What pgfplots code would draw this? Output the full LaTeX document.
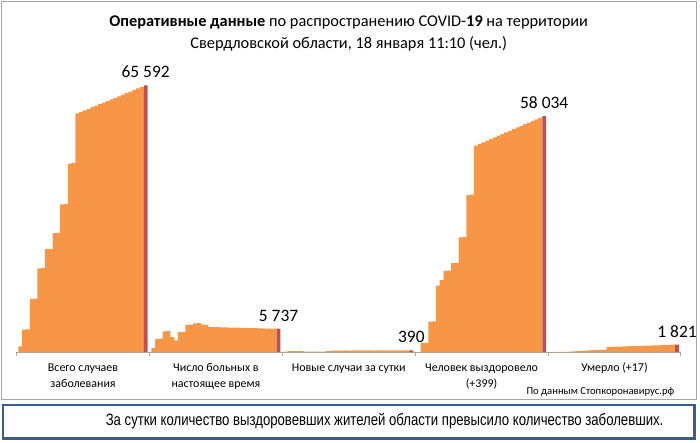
\documentclass[border=0pt]{standalone}
\usepackage{fontspec}
\setmainfont{Carlito}
\newfontfamily\arialn[FakeStretch=0.8]{Liberation Sans}
\usepackage{pgfplots}
\usepackage{pgfplotstable}
\pgfplotsset{compat=1.18}
\definecolor{barorange}{HTML}{F79646}
\definecolor{barred}{HTML}{C0504D}
\definecolor{boxblue}{HTML}{3B5B8C}
\definecolor{framegray}{HTML}{A6A6A6}

\pgfplotstableread{
k total active new recov dead
1 1390 980 120 60 5
2 5540 3200 200 2200 10
3 5580 3300 210 2230 15
4 13050 5100 230 7480 30
5 13090 5200 240 7520 45
6 20560 3680 80 16340 110
7 20620 2860 90 17730 140
8 25300 4880 100 19980 230
9 25360 4920 110 20030 260
10 29230 6650 120 21880 350
11 29280 6750 130 21930 380
12 36330 7050 300 28170 470
13 36400 7100 310 28230 500
14 46350 6750 330 38600 580
15 46450 6650 340 38700 620
16 58660 6150 372 50780 1250
17 59040 6125 380 51180 1282
18 59425 6100 375 51585 1314
19 59810 6075 385 51990 1346
20 60195 6050 378 52390 1378
21 60580 6025 390 52795 1410
22 60960 6000 382 53200 1442
23 61340 5975 388 53600 1474
24 61725 5950 376 54005 1506
25 62110 5925 392 54410 1538
26 62500 5900 384 54810 1570
27 62885 5875 379 55215 1602
28 63270 5850 386 55620 1634
29 63650 5825 391 56020 1666
30 64035 5800 383 56425 1698
31 64420 5780 387 56830 1730
32 64810 5765 389 57230 1762
33 65202 5750 393 57635 1794
}\datatable

\begin{document}
\begin{tikzpicture}
\path (0,0) rectangle (700bp,-444bp);
\draw[framegray, line width=0.8bp] (1.5bp,-1.5bp) rectangle (698.5bp,-400.5bp);
\node[anchor=base, font=\fontsize{16.4bp}{19bp}\selectfont] at (350bp,-27bp) {\textbf{Оперативные данные} по распространению COVID-\textbf{19} на территории};
\node[anchor=base, font=\fontsize{16.4bp}{19bp}\selectfont] at (350bp,-49bp) {Свердловской области, 18 января 11:10 (чел.)};
\begin{axis}[
  at={(16.7bp,-353.3bp)}, anchor=south west,
  scale only axis, width=666.6bp, height=285.7bp,
  xmin=0, xmax=175, ymin=0, ymax=70000,
  axis x line*=bottom, axis y line=none,
  x axis line style={-, framegray, line width=0.8bp},
  xtick={0,35,70,105,140,175}, xticklabels={},
  tick align=outside, major tick length=4bp,
  tick style={framegray, line width=0.8bp},
  clip=false,
]
\addplot[ybar, bar width=1.06, bar shift=0pt, fill=barorange, draw=none] table[x=k, y=total] {\datatable};
\addplot[ybar, bar width=1.06, bar shift=0pt, fill=barorange, draw=none] table[x expr=\thisrow{k}+35, y=active] {\datatable};
\addplot[ybar, bar width=1.06, bar shift=0pt, fill=barorange, draw=none] table[x expr=\thisrow{k}+70, y=new] {\datatable};
\addplot[ybar, bar width=1.06, bar shift=0pt, fill=barorange, draw=none] table[x expr=\thisrow{k}+105, y=recov] {\datatable};
\addplot[ybar, bar width=1.06, bar shift=0pt, fill=barorange, draw=none] table[x expr=\thisrow{k}+140, y=dead] {\datatable};
\addplot[ybar, bar width=1.0, bar shift=0pt, fill=barred, draw=none,
  point meta=explicit symbolic, nodes near coords,
  every node near coord/.style={font=\fontsize{17.5bp}{20bp}\selectfont, text=black, anchor=south, yshift=4bp}]
  coordinates {(34,65592) [65 592] (69,5737) [5 737] (104,390) [390] (139,58034) [58 034] (174,1821) [1 821]};
\end{axis}
\begin{scope}[font=\fontsize{12bp}{16bp}\selectfont]
\node[anchor=base] at (83.3bp,-373bp) {Всего случаев};
\node[anchor=base] at (83.3bp,-389bp) {заболевания};
\node[anchor=base] at (216.7bp,-373bp) {Число больных в};
\node[anchor=base] at (216.7bp,-389bp) {настоящее время};
\node[anchor=base] at (350bp,-373bp) {Новые случаи за сутки};
\node[anchor=base] at (483.3bp,-373bp) {Человек выздоровело};
\node[anchor=base] at (483.3bp,-389bp) {(+399)};
\node[anchor=base] at (616.7bp,-373bp) {Умерло (+17)};
\end{scope}
\node[anchor=base east, font=\fontsize{10.7bp}{12bp}\selectfont, inner sep=0pt] at (677bp,-396bp) {По данным Стопкоронавирус.рф};
\draw[boxblue, line width=2.5bp] (3bp,-406.5bp) rectangle (697bp,-440bp);
\node[font=\arialn\fontsize{16.5bp}{18bp}\selectfont] at (386bp,-423bp) {За сутки количество выздоровевших жителей области превысило количество заболевших.};
\end{tikzpicture}
\end{document}
